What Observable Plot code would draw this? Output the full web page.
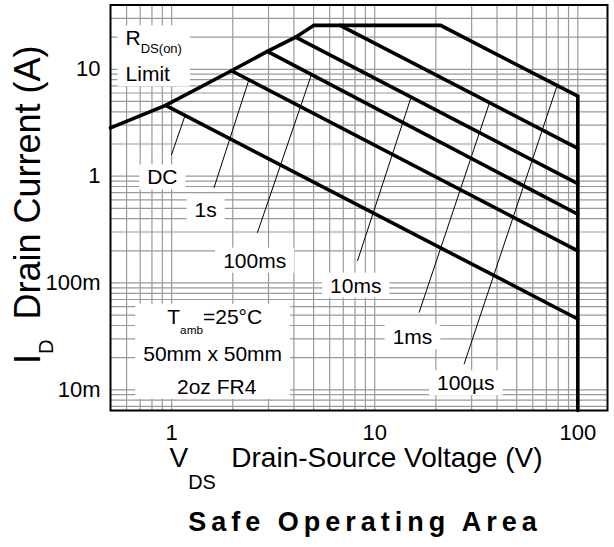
<!DOCTYPE html>
<html><head><meta charset="utf-8">
<script src="https://cdn.jsdelivr.net/npm/d3@7"></script>
<script src="https://cdn.jsdelivr.net/npm/@observablehq/plot@0.6"></script>
<style>body{margin:0;background:#fff;} svg{display:block;}</style>
</head><body><div id="chart"></div>
<script>
// ---- axes ----
const xDomain = [0.5, 140];
const yDomain = [0.0064, 40];
const xTicks = [1, 10, 100];
const xTickLabels = ["1", "10", "100"];
const yTicks = [0.01, 0.1, 1, 10];
const yTickLabels = ["10m", "100m", "1", "10"];

// ---- SOA envelope: RDS(on) limit, current limit, 100µs line, VDS max ----
const envV = [0.5, 0.934, 1.97, 2.96, 4.08, 5.02, 21.1, 100, 100];
const envI = [2.83, 4.6, 9.7, 14.7, 20.0, 25.8, 25.8, 5.6, 0.0064];

// ---- pulse lines (start on the envelope, end at 100 V) ----
const pulseNames = ["DC", "1s", "100ms", "10ms", "1ms"];
const pulseV0 = [0.934, 1.97, 2.96, 4.08, 6.75];
const pulseI0 = [4.6, 9.7, 14.7, 20.0, 25.8];
const pulseV1 = [100, 100, 100, 100, 100];
const pulseI1 = [0.046, 0.2, 0.44, 0.85, 1.82];

// ---- curve labels and leaders ----
const lblText = ["DC", "1s", "100ms", "10ms", "1ms", "100µs"];
const lblV = [0.900, 1.471, 2.564, 8.06, 15.34, 28.07];
const lblI = [0.836, 0.414, 0.139, 0.0812, 0.02674, 0.00989];
const leadV0 = [0.997, 1.616, 2.644, 8.22, 16.53, 27.54];
const leadI0 = [1.571, 0.777, 0.295, 0.1606, 0.0528, 0.01739];
const leadV1 = [1.159, 2.403, 4.878, 15.04, 36.57, 78.8];
const leadI1 = [3.6, 8.0, 8.9, 5.35, 4.75, 6.9];

// ---- boxed notes ----
const rdsText = ["R_{DS(on)}", "Limit"];
const rdsV = [0.593, 0.593];
const rdsI = [16.76, 7.725];
const condText = ["T_{amb}=25°C", "50mm x 50mm", "2oz FR4"];
const condV = [1.63, 1.592, 1.666];
const condI = [0.0414, 0.01866, 0.00918];

const xLabel = "V_{DS}\u00A0\u00A0Drain-Source Voltage (V)";
const yLabel = "I_{D}\u00A0\u00A0Drain Current (A)";
const title = "Safe Operating Area";

// grid positions (log decades)
const gridX = [], gridY = [];
for (const dec of [0.1, 1, 10, 100]) for (let k = 1; k <= 9; k++) {
  const v = +(k * dec).toPrecision(3);
  if (v > xDomain[0] && v < xDomain[1]) gridX.push(v);
}
for (const dec of [0.001, 0.01, 0.1, 1, 10]) for (let k = 1; k <= 9; k++) {
  const v = +(k * dec).toPrecision(3);
  if (v > yDomain[0] && v < yDomain[1] * 0.99) gridY.push(v);
}

const envelope = envV.map((v, i) => ({v, i: envI[i]}));
const pulses = pulseNames.flatMap((name, k) => [
  {name, v: pulseV0[k], i: pulseI0[k]},
  {name, v: pulseV1[k], i: pulseI1[k]}
]);
const labels = lblText.map((t, k) => ({t, v: lblV[k], i: lblI[k]}));
const leaders = lblText.map((t, k) => ({x1: leadV0[k], y1: leadI0[k], x2: leadV1[k], y2: leadI1[k]}));
const rds = rdsText.map((t, k) => ({t, v: rdsV[k], i: rdsI[k]}));
const cond = condText.map((t, k) => ({t, v: condV[k], i: condI[k]}));

const FONT = "'Liberation Sans', Arial, Helvetica, sans-serif";
const svg = Plot.plot({
  width: 614, height: 547,
  marginLeft: 110, marginRight: 7, marginTop: 4.5, marginBottom: 137,
  style: {fontFamily: FONT, fontSize: "22px", background: "white", color: "black"},
  x: {type: "log", domain: xDomain},
  y: {type: "log", domain: yDomain},
  marks: [
    Plot.ruleX(gridX, {stroke: "#9a9a9a", strokeWidth: 1.2}),
    Plot.ruleY(gridY, {stroke: "#9a9a9a", strokeWidth: 1.2}),
    Plot.link(leaders, {x1: "x1", y1: "y1", x2: "x2", y2: "y2", stroke: "black", strokeWidth: 1}),
    Plot.line(pulses, {x: "v", y: "i", z: "name", stroke: "black", strokeWidth: 3.6, strokeLinejoin: "miter"}),
    Plot.line(envelope, {x: "v", y: "i", stroke: "black", strokeWidth: 3.6, strokeLinejoin: "miter", strokeMiterlimit: 10}),
    Plot.text(labels, {x: "v", y: "i", text: "t", fontSize: 21, lineAnchor: "bottom", textAnchor: "middle", fill: "black", className: "lbl-small"}),
    Plot.text(rds.slice(0, 1), {x: "v", y: "i", text: "t", fontSize: 21, lineAnchor: "bottom", textAnchor: "start", fill: "black", className: "lbl-rds"}),
    Plot.text(rds.slice(1), {x: "v", y: "i", text: "t", fontSize: 21, lineAnchor: "bottom", textAnchor: "start", fill: "black", className: "lbl-limit"}),
    Plot.text(cond.slice(0, 1), {x: "v", y: "i", text: "t", fontSize: 21, lineAnchor: "bottom", textAnchor: "middle", fill: "black", className: "lbl-tamb"}),
    Plot.text(cond.slice(1), {x: "v", y: "i", text: "t", fontSize: 21, lineAnchor: "bottom", textAnchor: "middle", fill: "black", className: "lbl-tamb2"}),
    Plot.text([xLabel], {frameAnchor: "bottom", textAnchor: "middle", dy: 56, dx: -3, lineAnchor: "bottom", fontSize: 28, fill: "black", className: "lbl-xlab"}),
    Plot.text([yLabel], {frameAnchor: "left", textAnchor: "middle", rotate: -90, dx: -71, dy: -3, lineAnchor: "bottom", fontSize: 36, fill: "black", className: "lbl-ylab"}),
    Plot.text([title], {frameAnchor: "bottom", textAnchor: "middle", dy: 120, dx: 6, lineAnchor: "bottom", fontSize: 27, fontWeight: "bold", fill: "black", className: "lbl-title"}),
    Plot.axisX({ticks: xTicks, tickFormat: d => xTickLabels[xTicks.indexOf(d)], tickSize: 0, tickPadding: 14, fontSize: 22, label: null}),
    Plot.axisY({ticks: yTicks, tickFormat: d => yTickLabels[yTicks.indexOf(d)], tickSize: 0, tickPadding: 10, fontSize: 22, label: null}),
    Plot.frame({stroke: "black", strokeWidth: 2})
  ]
});
document.getElementById("chart").append(svg);

const NS = "http://www.w3.org/2000/svg";
// text groups in mark order (fallback if class lookup fails)
const textGroups = Array.from(svg.querySelectorAll(":scope > g")).filter(g => g.querySelector(":scope > text") && !g.getAttribute("aria-label")?.includes("tick"));
const order = ["lbl-small", "lbl-rds", "lbl-limit", "lbl-tamb", "lbl-tamb2", "lbl-xlab", "lbl-ylab", "lbl-title"];
function group(cls) {
  const g = svg.querySelector("g." + cls);
  if (g) return g;
  return textGroups[order.indexOf(cls)] || null;
}
function texts(cls) { const g = group(cls); return g ? Array.from(g.querySelectorAll("text")) : []; }

function applySub(t, sizeEm, shiftEm) {
  const txt = t.textContent;
  if (!txt.includes("_{")) return;
  const fs = parseFloat(getComputedStyle(t).fontSize);
  const shift = shiftEm * fs;
  const parts = txt.split(/_\{([^}]*)\}/);
  t.textContent = "";
  let prevSub = false;
  parts.forEach((p, k) => {
    if (!p) return;
    const ts = document.createElementNS(NS, "tspan");
    ts.textContent = p;
    if (k % 2 === 1) {
      ts.setAttribute("font-size", (sizeEm * fs) + "px");
      ts.setAttribute("dy", shift);
      prevSub = true;
    } else if (prevSub) {
      ts.setAttribute("dy", -shift);
      prevSub = false;
    }
    t.appendChild(ts);
  });
}
const subCfg = {"lbl-rds": [0.62, 0.38], "lbl-tamb": [0.56, 0.46], "lbl-xlab": [0.71, 0.79], "lbl-ylab": [0.56, 0.38]};
for (const [a, [sz, sh]] of Object.entries(subCfg)) texts(a).forEach(t => applySub(t, sz, sh));
const tg = group("lbl-title");
if (tg) tg.style.letterSpacing = "5px";

// white boxes behind labels
const sr = svg.getBoundingClientRect();
function bb(el) { const r = el.getBoundingClientRect(); return [r.left - sr.left, r.top - sr.top, r.right - sr.left, r.bottom - sr.top]; }
function union(u, b) { return u ? [Math.min(u[0], b[0]), Math.min(u[1], b[1]), Math.max(u[2], b[2]), Math.max(u[3], b[3])] : b; }
const boxes = [];
texts("lbl-small").forEach(t => boxes.push(bb(t)));
for (const grp of [["lbl-rds", "lbl-limit"], ["lbl-tamb", "lbl-tamb2"]]) {
  let u = null;
  grp.forEach(a => texts(a).forEach(t => { u = union(u, bb(t)); }));
  if (u) boxes.push(u);
}
const first = group("lbl-small");
if (first) {
  const bg = document.createElementNS(NS, "g");
  const padX = 8, padY = 1;
  boxes.forEach(b => {
    const r = document.createElementNS(NS, "rect");
    r.setAttribute("x", b[0] - padX); r.setAttribute("y", b[1] - padY);
    r.setAttribute("width", b[2] - b[0] + 2 * padX); r.setAttribute("height", b[3] - b[1] + 2 * padY);
    r.setAttribute("fill", "white");
    bg.appendChild(r);
  });
  first.parentNode.insertBefore(bg, first);
}
</script>
</body></html>
